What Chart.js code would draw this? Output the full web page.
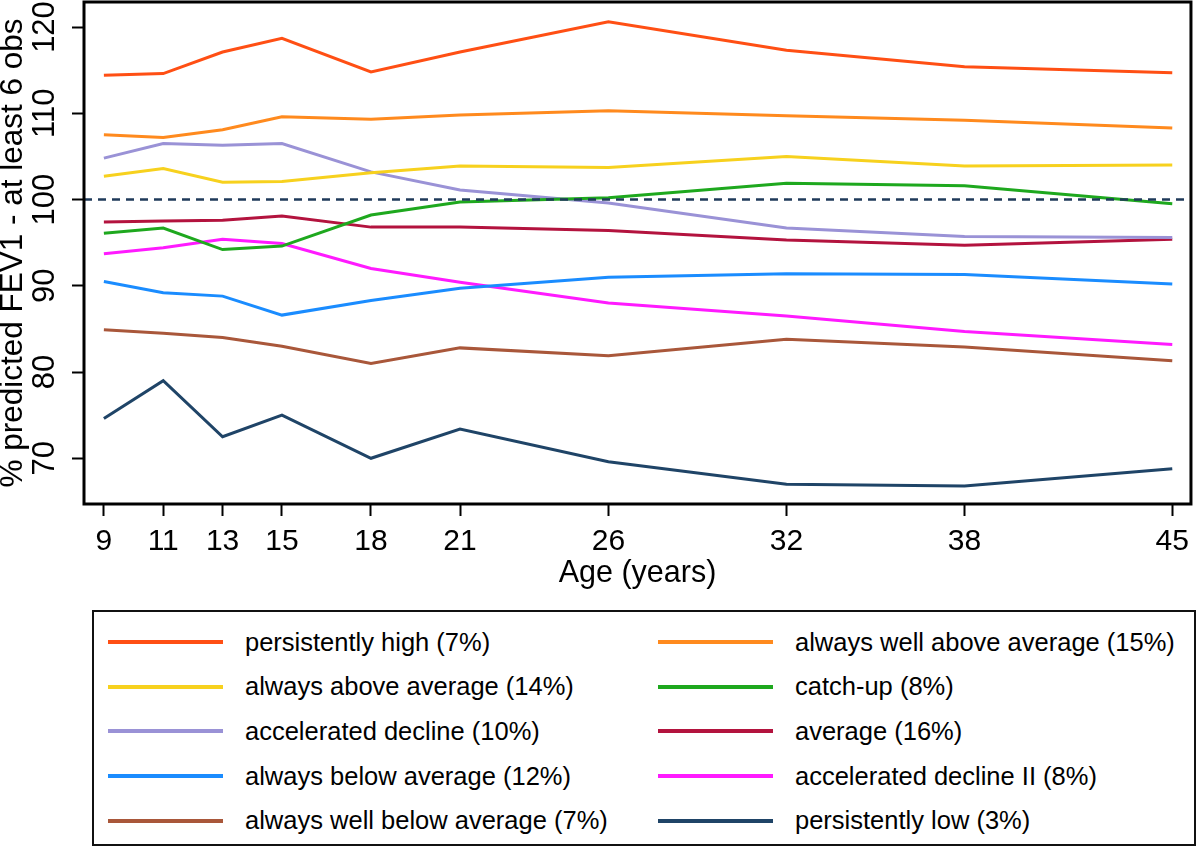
<!DOCTYPE html>
<html>
<head>
<meta charset="utf-8">
<script src="https://cdn.jsdelivr.net/npm/chart.js@4/dist/chart.umd.min.js"></script>
<style>
  body { margin: 0; background: #fff; font-family: "Liberation Sans", Arial, sans-serif; }
  #wrap { position: relative; width: 1200px; height: 850px; }
  #myChart { position: absolute; left: 0; top: 0; }
  #legend {
    position: absolute; left: 92px; top: 610px; width: 1104px; height: 236px;
    box-sizing: border-box; border: 2px solid #111; padding: 8px 0 0 14px;
    display: grid; grid-template-columns: 550px 1fr; grid-auto-rows: 44.6px;
  }
  .item { display: flex; align-items: center; font-size: 25.5px; color: #000; }
  .swatch { width: 115px; height: 4px; margin-right: 22px; }
</style>
</head>
<body>
<div id="wrap">
  <canvas id="myChart" width="1200" height="600"></canvas>
  <div id="legend"></div>
</div>
<script>
// ages (x axis) and tick labels
const ages = [9, 11, 13, 15, 18, 21, 26, 32, 38, 45];
const yTicks = [70, 80, 90, 100, 110, 120];
const refLine = 100;

const groupNames = [
  "persistently high (7%)",
  "always well above average (15%)",
  "always above average (14%)",
  "catch-up (8%)",
  "accelerated decline (10%)",
  "average (16%)",
  "always below average (12%)",
  "accelerated decline II (8%)",
  "always well below average (7%)",
  "persistently low (3%)",
];
const groupColors = [
  "#ff4f14", "#ff8a1e", "#f7d11e", "#1ea81e", "#9a92d6",
  "#b3133e", "#1a8cff", "#ff1aff", "#a9573a", "#1f4467",
];

// % predicted FEV1 per trajectory, one value per age
const persistentlyHigh = [114.4, 114.6, 117.1, 118.7, 114.8, 117.1, 120.6, 117.3, 115.4, 114.7];
const wellAboveAverage = [107.5, 107.2, 108.1, 109.6, 109.3, 109.8, 110.3, 109.7, 109.2, 108.3];
const aboveAverage = [102.7, 103.6, 102.0, 102.1, 103.1, 103.9, 103.7, 105.0, 103.9, 104.0];
const catchUp = [96.1, 96.7, 94.2, 94.6, 98.2, 99.7, 100.2, 101.9, 101.6, 99.5];
const accelDecline = [104.8, 106.5, 106.3, 106.5, 103.2, 101.1, 99.6, 96.7, 95.7, 95.6];
const average = [97.4, 97.5, 97.6, 98.1, 96.8, 96.8, 96.4, 95.3, 94.7, 95.4];
const belowAverage = [90.5, 89.2, 88.8, 86.6, 88.3, 89.7, 91.0, 91.4, 91.3, 90.2];
const accelDecline2 = [93.7, 94.4, 95.4, 94.9, 92.0, 90.4, 88.0, 86.5, 84.7, 83.2];
const wellBelowAverage = [84.9, 84.5, 84.0, 83.0, 81.0, 82.8, 81.9, 83.8, 82.9, 81.3];
const persistentlyLow = [74.6, 79.0, 72.5, 75.0, 70.0, 73.4, 69.6, 67.0, 66.8, 68.8];

const seriesValues = [
  persistentlyHigh, wellAboveAverage, aboveAverage, catchUp, accelDecline,
  average, belowAverage, accelDecline2, wellBelowAverage, persistentlyLow,
];

Chart.defaults.color = "#000";
Chart.defaults.font.family = '"Liberation Sans", Arial, sans-serif';

const datasets = seriesValues.map((vals, i) => ({
  label: groupNames[i],
  data: ages.map((a, j) => ({ x: a, y: vals[j] })),
  borderColor: groupColors[i],
  borderWidth: 3,
  pointRadius: 0,
  tension: 0,
  fill: false,
}));

// frame, dashed reference line and rotated y tick labels
const framePlugin = {
  id: "frame",
  afterDatasetsDraw(chart) {
    const { ctx, chartArea, scales } = chart;
    const y = scales.y.getPixelForValue(refLine);
    ctx.save();
    ctx.strokeStyle = "#1f3a5a";
    ctx.lineWidth = 2.5;
    ctx.setLineDash([8, 6]);
    ctx.beginPath();
    ctx.moveTo(chartArea.left, y);
    ctx.lineTo(chartArea.right, y);
    ctx.stroke();
    ctx.setLineDash([]);
    ctx.strokeStyle = "#000";
    ctx.lineWidth = 3;
    ctx.strokeRect(chartArea.left, chartArea.top, chartArea.right - chartArea.left, chartArea.bottom - chartArea.top);
    ctx.restore();
  },
  afterDraw(chart) {
    const { ctx, scales } = chart;
    ctx.save();
    ctx.fillStyle = "#000";
    ctx.font = '31px "Liberation Sans", Arial, sans-serif';
    ctx.textAlign = "center";
    ctx.textBaseline = "middle";
    yTicks.forEach((v) => {
      const py = scales.y.getPixelForValue(v);
      ctx.save();
      ctx.translate(45, py);
      ctx.rotate(-Math.PI / 2);
      ctx.fillText(String(v), 0, 0);
      ctx.restore();
    });
    ctx.restore();
  },
};

new Chart("myChart", {
  type: "line",
  data: { datasets: datasets },
  plugins: [framePlugin],
  options: {
    responsive: false,
    animation: false,
    layout: { padding: { top: 2, right: 3, left: 0, bottom: 0 } },
    plugins: { legend: { display: false }, tooltip: { enabled: false } },
    scales: {
      x: {
        type: "linear",
        min: 8.33,
        max: 45.63,
        afterBuildTicks(scale) {
          scale.ticks = ages.map((v) => ({ value: v }));
        },
        afterFit(scale) {
          scale.height = 96;
        },
        border: { display: false },
        grid: { drawOnChartArea: false, drawTicks: true, tickLength: 12, tickWidth: 2, tickColor: "#000" },
        ticks: { font: { size: 30, lineHeight: 1 }, padding: 11, maxRotation: 0, autoSkip: false },
        title: {
          display: true,
          text: "Age (years)",
          font: { size: 30.5, lineHeight: 1 },
          padding: { top: 0, bottom: 11 },
        },
      },
      y: {
        type: "linear",
        min: 64.7,
        max: 122.9,
        afterBuildTicks(scale) {
          scale.ticks = yTicks.map((v) => ({ value: v }));
        },
        afterFit(scale) {
          scale.width = 84;
        },
        border: { display: false },
        grid: { drawOnChartArea: false, drawTicks: true, tickLength: 12, tickWidth: 2, tickColor: "#000" },
        ticks: { display: false },
        title: {
          display: true,
          text: "% predicted FEV1 - at least 6 obs",
          font: { size: 31.5, lineHeight: 0.8 },
          padding: { top: 1, bottom: 0 },
        },
      },
    },
  },
});

// legend in two columns, row by row
const legendEl = document.getElementById("legend");
groupNames.forEach((name, i) => {
  const item = document.createElement("div");
  item.className = "item";
  const sw = document.createElement("span");
  sw.className = "swatch";
  sw.style.background = groupColors[i];
  item.appendChild(sw);
  item.appendChild(document.createTextNode(name));
  legendEl.appendChild(item);
});
</script>
</body>
</html>
